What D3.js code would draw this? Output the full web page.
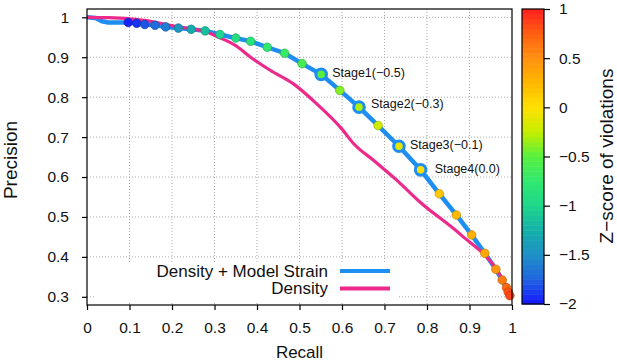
<!DOCTYPE html>
<html>
<head>
<meta charset="utf-8">
<script src="https://cdn.jsdelivr.net/npm/d3@7"></script>
<style>
  html, body { margin: 0; padding: 0; background: #fff; }
  svg { display: block; font-family: "Liberation Sans", Arial, Helvetica, sans-serif; }
</style>
</head>
<body>
<svg id="chart" width="617" height="364"></svg>
<script>
// ---------------- DATA ----------------
const xTicks = [0, 0.1, 0.2, 0.3, 0.4, 0.5, 0.6, 0.7, 0.8, 0.9, 1];
const yTicks = [0.3, 0.4, 0.5, 0.6, 0.7, 0.8, 0.9, 1];
const zTicks = [-2, -1.5, -1, -0.5, 0, 0.5, 1];

// Density + Model Strain curve (leading part before the first marker)
const strainLeadRecall    = [0, 0.02, 0.035, 0.05, 0.075];
const strainLeadPrecision = [1, 0.998, 0.99, 0.987, 0.987];

// markers on the Density + Model Strain curve
const markerRecall = [0.097, 0.117, 0.136, 0.16, 0.185, 0.215, 0.245, 0.278, 0.313, 0.35,
  0.385, 0.424, 0.465, 0.506, 0.551, 0.595, 0.64, 0.685, 0.734, 0.785,
  0.829, 0.869, 0.905, 0.936, 0.962, 0.977, 0.987, 0.991, 0.995];
const markerPrecision = [0.987, 0.985, 0.982, 0.980, 0.976, 0.973, 0.970, 0.966, 0.957, 0.948,
  0.940, 0.925, 0.910, 0.884, 0.857, 0.817, 0.775, 0.729, 0.677, 0.618,
  0.558, 0.505, 0.455, 0.409, 0.369, 0.342, 0.323, 0.312, 0.303];
const markerZ = [-1.95, -1.9, -1.8, -1.7, -1.6, -1.45, -1.3, -1.15, -1.0, -0.9,
  -0.85, -0.75, -0.7, -0.6, -0.5, -0.4, -0.3, -0.2, -0.1, 0.0,
  0.15, 0.25, 0.3, 0.35, 0.45, 0.6, 0.7, 0.8, 0.85];
const strainEndRecall = [1];
const strainEndPrecision = [0.298];

// stage markers (indices into marker arrays) and labels
const stageIndex  = [14, 16, 18, 19];
const stageLabels = ["Stage1(\u22120.5)", "Stage2(\u22120.3)", "Stage3(\u22120.1)", "Stage4(0.0)"];

// Density curve
const densityRecall = [0, 0.05, 0.1, 0.15, 0.2, 0.25, 0.28, 0.31, 0.35, 0.385, 0.43, 0.485,
  0.54, 0.6, 0.627, 0.674, 0.73, 0.784, 0.878, 0.968, 1];
const densityPrecision = [1, 0.999, 0.996, 0.99, 0.979, 0.97, 0.964, 0.95, 0.929, 0.9, 0.868, 0.834,
  0.784, 0.72, 0.684, 0.642, 0.591, 0.537, 0.457, 0.361, 0.298];

const seriesNames = ["Density + Model Strain", "Density"];

// ---------------- LAYOUT / STYLE ----------------
const plot = { left: 87, right: 512, top: 9, bottom: 305 };
const cbar = { left: 522, right: 544, top: 9, bottom: 304 };
const blue = "#1e8ef2", pink = "#ec2a8c";
const stageOffsets = [[11, 3], [12, 1], [11, 3], [14, 3]];

const svg = d3.select("#chart");

const x = d3.scaleLinear().domain([0, 1]).range([plot.left, plot.right]);
const y = d3.scaleLinear().domain([0.2795, 1.0208]).range([plot.bottom, plot.top]);
const zScale = d3.scaleLinear().domain([-2, 1]).range([cbar.bottom, cbar.top]);

const zStops = [-2, -1.75, -1.5, -1.25, -1, -0.75, -0.5, -0.25, 0, 0.25, 0.5, 0.75, 1];
const zColors = ["#1414ff", "#2064e0", "#2090c8", "#12b0a8", "#20d68c", "#30e870", "#58f040",
  "#c4ee00", "#ffe000", "#ffb800", "#ff9010", "#ff6010", "#ff2020"];
const color = d3.scaleLinear().domain(zStops).range(zColors).interpolate(d3.interpolateRgb);

// grid
const grid = svg.append("g");
grid.selectAll("line.vx").data(xTicks.filter(d => d > 0 && d < 1)).join("line")
  .attr("x1", d => x(d)).attr("x2", d => x(d))
  .attr("y1", plot.top).attr("y2", plot.bottom)
  .attr("stroke", "#aaa").attr("stroke-width", 1).attr("stroke-dasharray", "1,2");
grid.selectAll("line.hy").data(yTicks).join("line")
  .attr("x1", plot.left).attr("x2", plot.right)
  .attr("y1", d => y(d)).attr("y2", d => y(d))
  .attr("stroke", "#aaa").attr("stroke-width", 1).attr("stroke-dasharray", "1,2");

// legend background (masks grid)
svg.append("rect").attr("x", 96).attr("y", 262).attr("width", 302).attr("height", 40).attr("fill", "#fff");

// lines
const line = d3.line().x(d => x(d[0])).y(d => y(d[1])).curve(d3.curveLinear);
const strainPts = [
  ...strainLeadRecall.map((r, i) => [r, strainLeadPrecision[i]]),
  ...markerRecall.map((r, i) => [r, markerPrecision[i]]),
  ...strainEndRecall.map((r, i) => [r, strainEndPrecision[i]])
];
const densityPts = densityRecall.map((r, i) => [r, densityPrecision[i]]);

svg.append("path").datum(strainPts).attr("d", line)
  .attr("fill", "none").attr("stroke", blue).attr("stroke-width", 4.5).attr("stroke-linejoin", "round");
svg.append("path").datum(densityPts).attr("d", d3.line().x(d => x(d[0])).y(d => y(d[1])).curve(d3.curveMonotoneX))
  .attr("fill", "none").attr("stroke", pink).attr("stroke-width", 3.2).attr("stroke-linejoin", "round");

// markers
const markers = markerRecall.map((r, i) => ({ r, p: markerPrecision[i], z: markerZ[i], i }));
svg.append("g").selectAll("circle").data(markers.filter(d => !stageIndex.includes(d.i))).join("circle")
  .attr("cx", d => x(d.r)).attr("cy", d => y(d.p)).attr("r", 4.3)
  .attr("fill", d => color(d.z))
  .attr("stroke", d => d3.color(color(d.z)).darker(0.8)).attr("stroke-width", 0.7);
const stages = stageIndex.map((k, j) => ({ ...markers[k], label: stageLabels[j], off: stageOffsets[j] }));
svg.append("g").selectAll("circle").data(stages).join("circle")
  .attr("cx", d => x(d.r)).attr("cy", d => y(d.p)).attr("r", 5.3)
  .attr("fill", d => color(d.z)).attr("stroke", blue).attr("stroke-width", 3);
svg.append("g").selectAll("text").data(stages).join("text")
  .attr("x", d => x(d.r) + d.off[0]).attr("y", d => y(d.p) + d.off[1])
  .attr("font-size", 12.5).attr("fill", "#111").text(d => d.label);

// frame
svg.append("rect").attr("x", plot.left).attr("y", plot.top)
  .attr("width", plot.right - plot.left).attr("height", plot.bottom - plot.top)
  .attr("fill", "none").attr("stroke", "#000").attr("stroke-width", 1.2);

// axes
const fmt = d3.format("~g");
const xAxis = svg.append("g").attr("transform", `translate(0,${plot.bottom})`)
  .call(d3.axisBottom(x).tickValues(xTicks).tickFormat(fmt).tickSize(5).tickPadding(12));
const yAxis = svg.append("g").attr("transform", `translate(${plot.left},0)`)
  .call(d3.axisLeft(y).tickValues(yTicks).tickFormat(fmt).tickSize(5).tickPadding(13));
[xAxis, yAxis].forEach(a => {
  a.select(".domain").remove();
  a.selectAll("line").attr("stroke", "#000").attr("stroke-width", 1.2);
  a.selectAll("text").attr("font-size", 15.5).attr("fill", "#111")
    .attr("font-family", "Liberation Sans, Arial, sans-serif");
});

// axis titles
svg.append("text").attr("x", (plot.left + plot.right) / 2).attr("y", 358)
  .attr("text-anchor", "middle").attr("font-size", 17).attr("fill", "#111").text("Recall");
svg.append("text").attr("transform", `translate(17,160) rotate(-90)`)
  .attr("text-anchor", "middle").attr("font-size", 19).attr("fill", "#111").text("Precision");

// legend
const legendY = [271, 288.5];
const lg = svg.append("g");
lg.selectAll("text").data(seriesNames).join("text")
  .attr("x", 328).attr("y", (d, i) => legendY[i]).attr("dy", "0.35em")
  .attr("text-anchor", "end").attr("font-size", 17).attr("fill", "#111").text(d => d);
lg.selectAll("line").data(seriesNames).join("line")
  .attr("x1", 340).attr("x2", 390).attr("y1", (d, i) => legendY[i]).attr("y2", (d, i) => legendY[i])
  .attr("stroke", (d, i) => i === 0 ? blue : pink).attr("stroke-width", 4);

// colorbar
const nBands = 60;
const bandVals = d3.range(nBands).map(k => -2 + (k + 0.5) * 3 / nBands);
const bh = (cbar.bottom - cbar.top) / nBands;
svg.append("g").selectAll("rect").data(bandVals).join("rect")
  .attr("x", cbar.left).attr("width", cbar.right - cbar.left)
  .attr("y", d => zScale(d) - bh / 2).attr("height", bh + 0.5)
  .attr("fill", d => color(d));
svg.append("rect").attr("x", cbar.left).attr("y", cbar.top)
  .attr("width", cbar.right - cbar.left).attr("height", cbar.bottom - cbar.top)
  .attr("fill", "none").attr("stroke", "#000").attr("stroke-width", 1.2);
const zAxis = svg.append("g").attr("transform", `translate(${cbar.right},0)`)
  .call(d3.axisRight(zScale).tickValues(zTicks).tickFormat(fmt).tickSize(6).tickPadding(9));
zAxis.select(".domain").remove();
zAxis.selectAll("line").attr("stroke", "#000").attr("stroke-width", 1.2);
zAxis.selectAll("text").attr("font-size", 15.5).attr("fill", "#111")
  .attr("font-family", "Liberation Sans, Arial, sans-serif");
svg.append("text").attr("transform", `translate(613,156) rotate(-90)`)
  .attr("text-anchor", "middle").attr("font-size", 19).attr("fill", "#111").text("Z\u2212score of violations");
</script>
</body>
</html>
